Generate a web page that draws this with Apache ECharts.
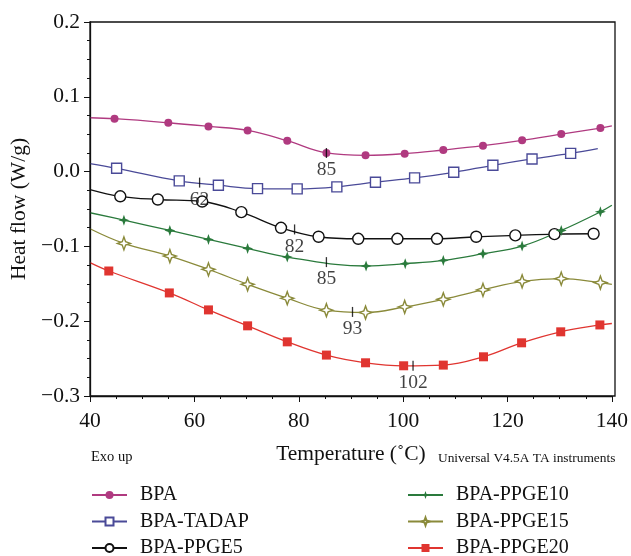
<!DOCTYPE html>
<html>
<head>
<meta charset="utf-8">
<script src="https://cdn.jsdelivr.net/npm/echarts@6/dist/echarts.min.js"></script>
<style>html,body{margin:0;padding:0;background:#fff}#c{width:631px;height:556px}</style>
</head>
<body>
<div id="c"></div>
<script>
// Series data: [temperature, heat flow]; first/last are curve ends (no marker)
var seriesNames = ['BPA','BPA-TADAP','BPA-PPGE5','BPA-PPGE10','BPA-PPGE15','BPA-PPGE20'];
var bpa = [[40,0.072],[44.7,0.0707],[55.0,0.0653],[62.7,0.0604],[70.2,0.0551],[77.8,0.0413],[85.3,0.0249],[92.8,0.0218],[100.3,0.024],[107.7,0.0289],[115.3,0.0347],[122.8,0.0418],[130.3,0.0502],[137.8,0.0582],[140,0.061]];
var tadap = [[40,0.0107],[45.1,0.0044],[57.1,-0.0124],[64.6,-0.0182],[72.1,-0.0227],[79.7,-0.0231],[87.3,-0.0204],[94.7,-0.0142],[102.2,-0.0084],[109.7,-0.0009],[117.2,0.0084],[124.7,0.0169],[132.1,0.0244],[137.3,0.0307]];
var ppge5 = [[40,-0.024],[45.8,-0.033],[53.0,-0.0373],[61.5,-0.040],[69.0,-0.0542],[76.6,-0.0751],[83.8,-0.0871],[91.4,-0.0898],[98.9,-0.0898],[106.5,-0.0898],[114.0,-0.0871],[121.5,-0.0853],[129.0,-0.0836],[136.5,-0.0831],[137.5,-0.0831]];
var ppge10 = [[40,-0.055],[46.5,-0.0649],[55.3,-0.0787],[62.7,-0.0907],[70.2,-0.1027],[77.8,-0.1142],[92.9,-0.1262],[100.4,-0.1231],[107.7,-0.1187],[115.3,-0.1098],[122.8,-0.0996],[130.3,-0.0787],[137.8,-0.0538],[140,-0.045]];
var ppge15 = [[40,-0.0764],[46.5,-0.096],[55.3,-0.1129],[62.7,-0.1307],[70.2,-0.1507],[77.8,-0.1693],[85.3,-0.1853],[92.8,-0.1884],[100.3,-0.1809],[107.7,-0.1707],[115.3,-0.1582],[122.8,-0.1467],[130.3,-0.1431],[137.8,-0.1484],[140,-0.1507]];
var ppge20 = [[40,-0.1218],[43.6,-0.1329],[55.2,-0.1622],[62.7,-0.1849],[70.2,-0.2062],[77.8,-0.2276],[85.3,-0.2453],[92.8,-0.2556],[100.1,-0.2596],[107.7,-0.2587],[115.4,-0.2476],[122.7,-0.2289],[130.2,-0.2142],[137.7,-0.205],[140,-0.2031]];
// Transition annotations: [temperature, heat flow at mark, label]
var annotations = [[85.3,0.0249,'85'],[61,-0.0147,'62'],[79.2,-0.0773,'82'],[85.3,-0.121,'85'],[90.3,-0.1876,'93'],[101.9,-0.2596,'102']];
var xTicks = [40,60,80,100,120,140];
var yTicks = [-0.3,-0.2,-0.1,0.0,0.1,0.2];

var colors = ['#b03a80','#4a4a98','#111111','#2a7a3c','#8a8a3a','#e03530'];
var star = 'path://M0,-10 L2.6,-2.6 L10,0 L2.6,2.6 L0,10 L-2.6,2.6 L-10,0 L-2.6,-2.6 Z';
var styles = [
  {symbol:'circle', size:8, fill:true},
  {symbol:'rect', size:10, fill:false},
  {symbol:'circle', size:11, fill:false},
  {symbol:star, size:11, fill:true},
  {symbol:star, size:13, fill:false},
  {symbol:'rect', size:9, fill:true}
];
var allData = [bpa,tadap,ppge5,ppge10,ppge15,ppge20];
var serif = 'Liberation Serif, DejaVu Serif, serif';

function fmt(v){ var s = (Math.abs(v)<1e-9?0:v).toFixed(1); return s.replace('-','\u2212'); }

var series = allData.map(function(d, i){
  var st = styles[i];
  return {
    name: seriesNames[i], type:'line', smooth:0.4,
    data: d.map(function(p, j){
      var o = {value:p};
      if (j===0 || j===d.length-1) { o.symbol='none'; }
      return o;
    }),
    symbol: st.symbol, symbolSize: st.size, showAllSymbol:true,
    itemStyle:{color: st.fill ? colors[i] : '#ffffff', borderColor: colors[i], borderWidth: st.fill?0:1.4},
    lineStyle:{color: colors[i], width:1.3},
    emphasis:{disabled:true},
    z: 2
  };
});
series.push({
  type:'scatter', name:'ann', silent:true,
  data: annotations.map(function(a){ return {value:[a[0],a[1]], label:{formatter:a[2]}}; }),
  symbol:'rect', symbolSize:[1.3,10], itemStyle:{color:'#000'},
  label:{show:true, position:'bottom', distance:2, fontFamily:serif, fontSize:19.5, color:'#111'},
  z: 5
});

var legendText = {fontFamily:serif, fontSize:20, color:'#111', lineHeight:20, padding:[0,0,0,8]};
var chart = echarts.init(document.getElementById('c'));
chart.setOption({
  animation:false,
  backgroundColor:'#fff',
  grid:{left:90, right:16, top:22, bottom:160, containLabel:false},
  xAxis:{
    type:'value', min:40, max:140, interval:20,
    name:'Temperature (\u02DAC)', nameLocation:'middle', nameGap:47,
    nameTextStyle:{fontFamily:serif, fontSize:21.5, color:'#111'},
    axisLine:{show:true, onZero:false, lineStyle:{color:'#111', width:1.3}},
    axisTick:{show:true, length:6, lineStyle:{color:'#111'}},
    minorTick:{show:true, splitNumber:4, length:3, lineStyle:{color:'#111'}},
    axisLabel:{fontFamily:serif, fontSize:21.5, color:'#111', margin:14},
    splitLine:{show:false}
  },
  yAxis:{
    type:'value', min:-0.3, max:0.2, interval:0.1,
    name:'Heat flow (W/g)', nameLocation:'middle', nameGap:58,
    nameTextStyle:{fontFamily:serif, fontSize:21.5, color:'#111'},
    axisLine:{show:true, onZero:false, lineStyle:{color:'#111', width:1.3}},
    axisTick:{show:true, length:6, lineStyle:{color:'#111'}},
    minorTick:{show:true, splitNumber:4, length:3, lineStyle:{color:'#111'}},
    axisLabel:{fontFamily:serif, fontSize:21.5, color:'#111', margin:10, formatter:fmt},
    splitLine:{show:false}
  },
  legend:[
    {data:seriesNames.slice(0,3), orient:'vertical', left:91, top:485, padding:0, height:100, itemGap:6.5, itemWidth:35, itemHeight:10,
     textStyle:legendText, selectedMode:false},
    {data:seriesNames.slice(3,6), orient:'vertical', left:407, top:485, padding:0, height:100, itemGap:6.5, itemWidth:35, itemHeight:10,
     textStyle:legendText, selectedMode:false}
  ],
  graphic:[
    {type:'rect', shape:{x:90, y:22, width:525, height:374}, style:{fill:'none', stroke:'#111', lineWidth:1.3}, silent:true, z:10},
    {type:'text', left:91, top:450, style:{text:'Exo up', fontFamily:serif, fontSize:14.5, fill:'#111'}},
    {type:'text', left:438, top:452, style:{text:'Universal V4.5A TA instruments', fontFamily:serif, fontSize:13.4, fill:'#111'}}
  ],
  series: series
});
</script>
</body>
</html>
